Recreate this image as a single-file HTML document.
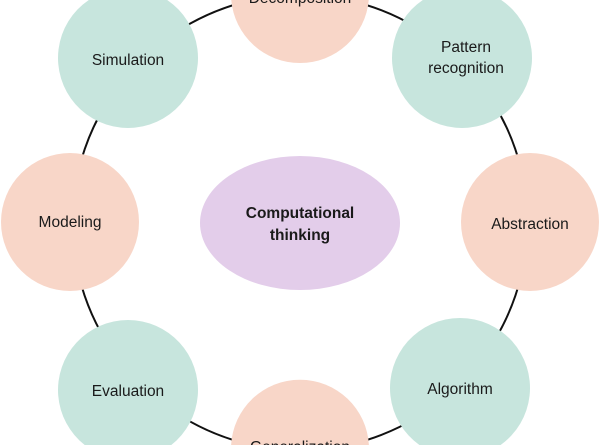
<!DOCTYPE html>
<html><head><style>
html,body{margin:0;padding:0;background:#fff;width:600px;height:445px;overflow:hidden;}
svg{display:block;overflow:hidden;}
text{font-family:"Liberation Sans",sans-serif;font-size:15.5px;fill:#1a1a1a;text-anchor:middle;}
</style></head><body>
<svg width="600" height="445" viewBox="0 0 600 445">
<path d="M252.5,0 A230,228 0 0 0 252,445 M348,445 A230,228 0 0 0 347.5,0" fill="none" stroke="#111" stroke-width="2"/>
<g fill="#f8d6c8">
<path d="M231.26,0 A69,69 0 0 0 368.74,0 Z"/>
<circle cx="70" cy="222" r="69"/>
<circle cx="530" cy="222" r="69"/>
<path d="M231.1,445 A69,69 0 0 1 368.9,445 Z"/>
</g>
<g fill="#c7e5dd">
<path d="M88.8,0 A70,70 0 1 0 167.2,0 Z"/>
<path d="M422.8,0 A70,70 0 1 0 501.2,0 Z"/>
<path d="M84.7,445 A70,70 0 1 1 171.3,445 Z"/>
<path d="M419.4,445 A70,70 0 1 1 500.6,445 Z"/>
</g>
<ellipse cx="300" cy="223" rx="100" ry="67" fill="#e3cdea"/>
<text x="300" y="3">Decomposition</text>
<text x="128" y="65">Simulation</text>
<text x="466" y="52">Pattern</text>
<text x="466" y="73">recognition</text>
<text x="70" y="227">Modeling</text>
<text x="530" y="229">Abstraction</text>
<text x="128" y="396">Evaluation</text>
<text x="460" y="394">Algorithm</text>
<text x="300" y="452">Generalization</text>
<text x="300" y="218" style="font-weight:bold">Computational</text>
<text x="300" y="240" style="font-weight:bold">thinking</text>
</svg>
</body></html>
